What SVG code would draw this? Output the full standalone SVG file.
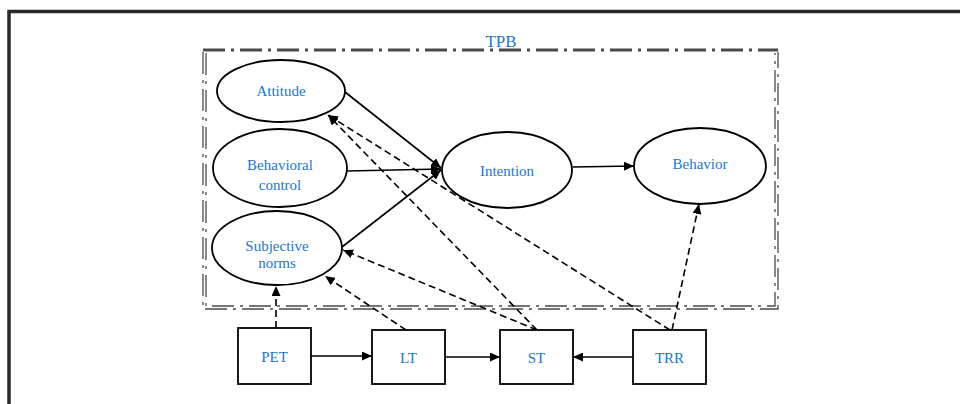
<svg xmlns="http://www.w3.org/2000/svg" width="960" height="404" viewBox="0 0 960 404">
<defs>
<marker id="ah" markerUnits="userSpaceOnUse" markerWidth="11" markerHeight="9" refX="10" refY="4.5" orient="auto">
<path d="M0,0 L10,4.5 L0,9 z" fill="#000"/>
</marker>
<style>
.lbl{font-family:"Liberation Serif","Times New Roman",serif;font-size:15px;fill:#2275cc;text-anchor:middle}
.node{fill:#fff;stroke:#000;stroke-width:1.8}
.solid{fill:none;stroke:#000;stroke-width:1.6;marker-end:url(#ah)}
.dash{fill:none;stroke:#000;stroke-width:1.6;stroke-dasharray:7,4;marker-end:url(#ah)}
.tpb{fill:none;stroke:#4a4a4a;stroke-dasharray:22,6,3,6}
</style>
</defs>
<rect x="0" y="0" width="960" height="404" fill="#fff"/>
<path d="M9,404 V11.5 H960" fill="none" stroke="#2a2a2a" stroke-width="3.5"/>
<g id="tpb-boundary">
<path class="tpb" d="M203,50 H778" stroke-width="2.8"/>
<path class="tpb" d="M203,52 V309 H778 V52" stroke-width="1.3"/>
<path class="tpb" d="M206,53 V306 H775 V53" stroke-width="1.3"/>
<text x="501" y="47" class="lbl" style="font-size:17px">TPB</text>
</g>
<g id="connectors">
<line class="solid" x1="345" y1="92" x2="441" y2="168"/>
<line class="solid" x1="347" y1="171" x2="441" y2="169"/>
<line class="solid" x1="342" y1="247" x2="441" y2="170"/>
<line class="solid" x1="573" y1="167" x2="634" y2="166"/>
<line class="solid" x1="311" y1="356" x2="372" y2="356"/>
<line class="solid" x1="445" y1="357" x2="500" y2="357"/>
<line class="solid" x1="633" y1="357" x2="573" y2="357"/>
<line class="dash" x1="276" y1="328" x2="276" y2="286"/>
<line class="dash" x1="406" y1="330" x2="325" y2="276"/>
<line class="dash" x1="537" y1="330" x2="343" y2="250"/>
<line class="dash" x1="537" y1="330" x2="328" y2="115"/>
<line class="dash" x1="670" y1="330" x2="328" y2="115"/>
<line class="dash" x1="672" y1="330" x2="699" y2="204"/>
</g>
<g id="attitude">
<ellipse class="node" cx="281" cy="91" rx="64" ry="31"/>
<text class="lbl" x="281" y="96">Attitude</text>
</g>
<g id="behavioral-control">
<ellipse class="node" cx="280" cy="168" rx="67" ry="39"/>
<text class="lbl" x="280" y="170">Behavioral</text>
<text class="lbl" x="280" y="190">control</text>
</g>
<g id="subjective-norms">
<ellipse class="node" cx="277" cy="248" rx="65" ry="37"/>
<text class="lbl" x="277" y="251">Subjective</text>
<text class="lbl" x="277" y="268">norms</text>
</g>
<g id="intention">
<ellipse class="node" cx="507" cy="170" rx="65" ry="38"/>
<text class="lbl" x="507" y="176">Intention</text>
</g>
<g id="behavior">
<ellipse class="node" cx="700" cy="166" rx="66" ry="38"/>
<text class="lbl" x="700" y="169">Behavior</text>
</g>
<g id="pet">
<rect class="node" x="238" y="328" width="73" height="56"/>
<text class="lbl" x="274.5" y="362">PET</text>
</g>
<g id="lt">
<rect class="node" x="372" y="330" width="73" height="54"/>
<text class="lbl" x="408.5" y="363">LT</text>
</g>
<g id="st">
<rect class="node" x="500" y="330" width="73" height="54"/>
<text class="lbl" x="536.5" y="363">ST</text>
</g>
<g id="trr">
<rect class="node" x="633" y="330" width="73" height="54"/>
<text class="lbl" x="669.5" y="363">TRR</text>
</g>
</svg>
